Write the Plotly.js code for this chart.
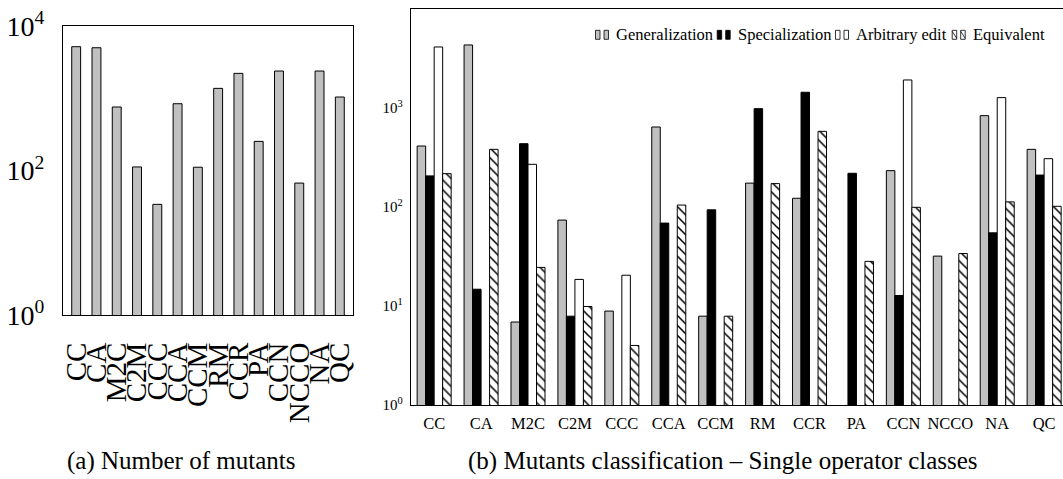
<!DOCTYPE html>
<html>
<head>
<meta charset="utf-8">
<script src="https://cdn.plot.ly/plotly-3.0.1.min.js"></script>
<style>
  html, body { margin: 0; padding: 0; overflow: hidden; background: #fff; }
  #chart { width: 1070px; height: 479px; }
</style>
</head>
<body>
<div id="chart"></div>
<script>
// ---- Data ----
const categories = ["CC", "CA", "M2C", "C2M", "CCC", "CCA", "CCM", "RM", "CCR", "PA", "CCN", "NCCO", "NA", "QC"];

// (a) Number of mutants per operator class
const totalMutants = [5170, 5000, 757, 112, 34, 840, 111, 1370, 2210, 253, 2380, 67, 2380, 1040];

// (b) Mutants classification - single operator classes
const generalization = [415, 4360, 6.9, 74, 8.9, 646, 7.9, 175, 123, null, 234, 32, 841, 384];
const specialization = [207, 14.8, 438, 7.9, null, 69, 94, 990, 1450, 220, 12.8, null, 55, 211];
const arbitraryEdit  = [4160, null, 271, 18.6, 20.5, null, null, null, null, null, 1930, null, 1280, 309];
const equivalent     = [218, 384, 24.6, 9.9, 4.0, 105, 7.9, 173, 584, 28.3, 99.6, 34, 113, 102];

const seriesNames = ["Generalization", "Specialization", "Arbitrary edit", "Equivalent"];

const leftTickVals = [1, 100, 10000];
const leftTickText = ["10<sup>0</sup>", "10<sup>2</sup>", "10<sup>4</sup>"];
const rightTickVals = [1, 10, 100, 1000, 10000];
const rightTickText = ["10<sup>0</sup>", "10<sup>1</sup>", "10<sup>2</sup>", "10<sup>3</sup>", "10<sup>4</sup>"];

// ---- Layout geometry (pixels) ----
const W = 1070, H = 479;
const FONT = "'Liberation Serif', 'Times New Roman', Times, serif";
const px = v => v / W;
const py = v => 1 - v / H;

const line = { color: "#000", width: 1 };
const fills = ["#c0c0c0", "#000000", "#ffffff", "#ffffff"];
const seriesData = [generalization, specialization, arbitraryEdit, equivalent];

const traces = [
  {
    type: "bar", x: categories, y: totalMutants, xaxis: "x", yaxis: "y",
    width: 0.44, marker: { color: "#c0c0c0", line: line }, showlegend: false
  }
];
seriesData.forEach((vals, i) => {
  const marker = { color: fills[i], line: line };
  if (i === 3) marker.pattern = { shape: "\\", fgcolor: "#000", bgcolor: "#fff", size: 7, solidity: 0.22 };
  traces.push({
    type: "bar", name: seriesNames[i], x: categories, y: vals,
    xaxis: "x2", yaxis: "y2", marker: marker, showlegend: false
  });
});

// ---- Custom compact legend (two mini bars + label, like the reference) ----
const legendTextX = [614, 735.7, 854, 970.7];
const legendY0 = 30.3, legendY1 = 39.3, legendYc = 35;
const shapes = [];
const annotations = [];
seriesNames.forEach((name, i) => {
  const t = legendTextX[i];
  [[t - 18.5, t - 14], [t - 10, t - 5.5]].forEach(([a, b]) => {
    shapes.push({
      type: "rect", xref: "paper", yref: "paper",
      x0: px(a), x1: px(b), y0: py(legendY1), y1: py(legendY0),
      fillcolor: fills[i], line: { color: "#000", width: 0.8 }
    });
    if (i === 3) {
      shapes.push({
        type: "line", xref: "paper", yref: "paper",
        x0: px(a), x1: px(b), y0: py(legendY0 + 1), y1: py(legendY1 - 1),
        line: { color: "#000", width: 0.8 }
      });
    }
  });
  annotations.push({
    text: name, xref: "paper", yref: "paper", x: px(t), y: py(legendYc),
    xanchor: "left", yanchor: "middle", showarrow: false,
    font: { family: FONT, size: 16.5, color: "#000" }
  });
});

annotations.push(
  { text: "(a) Number of mutants", xref: "paper", yref: "paper",
    x: px(181), y: py(461), xanchor: "center", yanchor: "middle", showarrow: false,
    font: { family: FONT, size: 25, color: "#000" } },
  { text: "(b) Mutants classification – Single operator classes", xref: "paper", yref: "paper",
    x: px(722.5), y: py(461), xanchor: "center", yanchor: "middle", showarrow: false,
    font: { family: FONT, size: 25, color: "#000" } }
);

const layout = {
  width: W, height: H,
  margin: { l: 0, r: 0, t: 0, b: 0, pad: 0 },
  paper_bgcolor: "#fff", plot_bgcolor: "#fff",
  font: { family: FONT, color: "#000", size: 16 },
  barmode: "group", bargap: 0.275, bargroupgap: 0,
  showlegend: false,
  xaxis: {
    domain: [px(63), px(353)], anchor: "y",
    type: "category", range: [-0.65, 13.65],
    tickmode: "array", tickvals: categories, ticktext: categories,
    showline: true, mirror: true, linecolor: "#000", linewidth: 1,
    ticks: "", showgrid: false, zeroline: false,
    tickangle: -90, tickfont: { family: FONT, size: 29 }, ticklabelstandoff: 15
  },
  yaxis: {
    domain: [py(315), py(26)], anchor: "x",
    type: "log", range: [0, 4],
    tickmode: "array", tickvals: leftTickVals, ticktext: leftTickText,
    showline: true, mirror: true, linecolor: "#000", linewidth: 1,
    ticks: "", showgrid: false, zeroline: false,
    tickfont: { family: FONT, size: 28 }, ticklabelstandoff: 12
  },
  xaxis2: {
    domain: [px(410.7), px(1067.6)], anchor: "y2",
    type: "category", range: [-0.5, 13.5],
    tickmode: "array", tickvals: categories, ticktext: categories,
    showline: true, mirror: true, linecolor: "#000", linewidth: 1,
    ticks: "", showgrid: false, zeroline: false,
    tickfont: { family: FONT, size: 16.5 }, ticklabelstandoff: 3
  },
  yaxis2: {
    domain: [py(405), py(9.3)], anchor: "x2",
    type: "log", range: [0, 4],
    tickmode: "array", tickvals: rightTickVals, ticktext: rightTickText,
    showline: true, mirror: true, linecolor: "#000", linewidth: 1,
    ticks: "", showgrid: false, zeroline: false,
    tickfont: { family: FONT, size: 15 }, ticklabelstandoff: 4
  },
  shapes: shapes,
  annotations: annotations
};

Plotly.newPlot("chart", traces, layout, { staticPlot: true, displayModeBar: false });
</script>
</body>
</html>
